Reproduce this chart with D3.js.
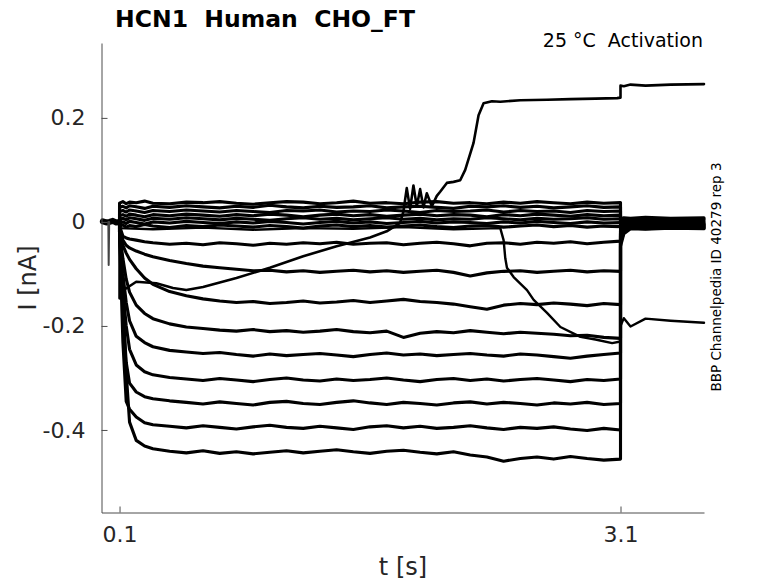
<!DOCTYPE html>
<html lang="en">
<head>
<meta charset="UTF-8">
<title>HCN1 Human CHO_FT</title>
<style>
  body { margin: 0; background: #fff; }
  text { font-family: "DejaVu Sans", sans-serif; }
</style>
</head>
<body>
<div id="chart"></div>
<script src="https://cdn.jsdelivr.net/npm/d3@7"></script>
<script>
// ---- data, time in s, current in nA ----
let xTicks = [0.1, 3.1]
let yTicks = [0.2, 0, -0.2, -0.4]

// holding level before the step and the short test spike
let holdTimes = [0, 0.02, 0.04, 0.06, 0.08, 0.1]
let holdCurrents = [0.001, -0.001, 0.000, 0.002, -0.001, 0.000]
let spikeTimes = [0.033, 0.035, 0.038]
let spikeCurrents = [0.000, -0.083, 0.000]

// activation step 0.1 .. 3.1 s
let stepTimes = [0.1, 0.12, 0.14, 0.16, 0.2, 0.25, 0.3, 0.4, 0.5, 0.6, 0.7, 0.8, 0.9, 1.0, 1.1, 1.2, 1.3, 1.4, 1.5, 1.6, 1.7, 1.8, 1.9, 2.0, 2.1, 2.2, 2.3, 2.4, 2.5, 2.6, 2.7, 2.8, 2.9, 3.0, 3.1]
let stepCurrents = [
  [0.036, 0.039, 0.035, 0.038, 0.037, 0.040, 0.036, 0.035, 0.038, 0.037, 0.039, 0.036, 0.034, 0.037, 0.039, 0.038, 0.035, 0.037, 0.040, 0.036, 0.037, 0.035, 0.038, 0.039, 0.036, 0.037, 0.035, 0.038, 0.036, 0.039, 0.037, 0.035, 0.038, 0.036, 0.037],
  [0.028, 0.030, 0.027, 0.031, 0.029, 0.026, 0.030, 0.028, 0.031, 0.029, 0.027, 0.030, 0.028, 0.032, 0.029, 0.027, 0.030, 0.028, 0.029, 0.031, 0.027, 0.029, 0.030, 0.028, 0.026, 0.030, 0.029, 0.031, 0.028, 0.030, 0.027, 0.029, 0.031, 0.028, 0.029],
  [0.020, 0.022, 0.019, 0.023, 0.021, 0.018, 0.022, 0.020, 0.023, 0.021, 0.019, 0.022, 0.020, 0.018, 0.022, 0.021, 0.023, 0.019, 0.021, 0.020, 0.023, 0.021, 0.018, 0.022, 0.020, 0.021, 0.023, 0.019, 0.022, 0.020, 0.021, 0.018, 0.022, 0.020, 0.021],
  [0.012, 0.014, 0.011, 0.015, 0.013, 0.010, 0.014, 0.012, 0.015, 0.013, 0.011, 0.014, 0.012, 0.015, 0.013, 0.010, 0.013, 0.015, 0.012, 0.014, 0.011, 0.013, 0.015, 0.012, 0.014, 0.013, 0.010, 0.014, 0.012, 0.015, 0.013, 0.011, 0.014, 0.012, 0.013],
  [0.005, 0.007, 0.004, 0.008, 0.006, 0.003, 0.007, 0.005, 0.008, 0.006, 0.004, 0.007, 0.005, 0.003, 0.006, 0.008, 0.005, 0.007, 0.004, 0.006, 0.008, 0.005, 0.007, 0.004, 0.006, 0.005, 0.008, 0.006, 0.004, 0.007, 0.005, 0.006, 0.008, 0.005, 0.006],
  [-0.002, 0.000, -0.003, 0.001, -0.001, -0.004, 0.000, -0.002, 0.001, -0.001, -0.003, 0.000, -0.002, 0.001, -0.001, -0.004, -0.001, 0.001, -0.002, 0.000, -0.003, -0.001, 0.001, -0.002, 0.000, -0.001, -0.003, 0.000, -0.002, 0.001, -0.001, -0.003, 0.000, -0.002, -0.001],
  [-0.008, -0.006, -0.010, -0.007, -0.009, -0.005, -0.008, -0.011, -0.007, -0.009, -0.006, -0.008, -0.010, -0.007, -0.009, -0.012, -0.008, -0.006, -0.009, -0.007, -0.010, -0.008, -0.006, -0.009, -0.011, -0.008, -0.007, -0.010, -0.008, -0.006, -0.009, -0.007, -0.010, -0.008, -0.009],
  [-0.008, -0.027, -0.031, -0.033, -0.035, -0.038, -0.040, -0.043, -0.041, -0.044, -0.040, -0.042, -0.045, -0.041, -0.043, -0.040, -0.042, -0.039, -0.043, -0.041, -0.040, -0.044, -0.041, -0.039, -0.042, -0.046, -0.041, -0.040, -0.043, -0.039, -0.041, -0.038, -0.042, -0.039, -0.037],
  [-0.010, -0.035, -0.045, -0.050, -0.056, -0.062, -0.067, -0.074, -0.080, -0.085, -0.088, -0.091, -0.094, -0.093, -0.096, -0.094, -0.097, -0.095, -0.093, -0.096, -0.094, -0.097, -0.095, -0.093, -0.097, -0.104, -0.098, -0.095, -0.094, -0.097, -0.095, -0.093, -0.096, -0.094, -0.095],
  [-0.020, -0.045, -0.060, -0.072, -0.090, -0.108, -0.120, -0.134, -0.142, -0.148, -0.152, -0.155, -0.153, -0.157, -0.155, -0.152, -0.156, -0.154, -0.151, -0.155, -0.152, -0.149, -0.153, -0.155, -0.158, -0.163, -0.168, -0.160, -0.157, -0.159, -0.156, -0.158, -0.161, -0.157, -0.159],
  [-0.020, -0.070, -0.110, -0.135, -0.160, -0.176, -0.186, -0.196, -0.202, -0.205, -0.208, -0.210, -0.207, -0.211, -0.209, -0.212, -0.210, -0.207, -0.211, -0.213, -0.210, -0.222, -0.214, -0.211, -0.213, -0.209, -0.212, -0.215, -0.212, -0.214, -0.216, -0.219, -0.218, -0.222, -0.224],
  [-0.020, -0.100, -0.155, -0.190, -0.220, -0.232, -0.240, -0.247, -0.250, -0.253, -0.251, -0.255, -0.258, -0.254, -0.257, -0.255, -0.253, -0.256, -0.259, -0.255, -0.252, -0.256, -0.254, -0.257, -0.255, -0.253, -0.256, -0.258, -0.254, -0.256, -0.259, -0.262, -0.258, -0.255, -0.252],
  [-0.020, -0.130, -0.200, -0.245, -0.275, -0.288, -0.294, -0.299, -0.302, -0.305, -0.301, -0.304, -0.307, -0.303, -0.300, -0.304, -0.306, -0.302, -0.305, -0.303, -0.300, -0.304, -0.307, -0.303, -0.301, -0.305, -0.302, -0.306, -0.303, -0.301, -0.304, -0.307, -0.303, -0.305, -0.302],
  [-0.020, -0.170, -0.270, -0.310, -0.327, -0.336, -0.340, -0.344, -0.347, -0.350, -0.346, -0.349, -0.352, -0.347, -0.345, -0.349, -0.351, -0.347, -0.344, -0.348, -0.351, -0.347, -0.349, -0.352, -0.348, -0.346, -0.350, -0.347, -0.349, -0.352, -0.348, -0.350, -0.347, -0.351, -0.349],
  [-0.020, -0.230, -0.345, -0.360, -0.375, -0.386, -0.390, -0.393, -0.396, -0.392, -0.395, -0.398, -0.394, -0.391, -0.395, -0.397, -0.393, -0.396, -0.399, -0.394, -0.392, -0.396, -0.393, -0.397, -0.395, -0.392, -0.396, -0.399, -0.395, -0.397, -0.394, -0.398, -0.401, -0.397, -0.400],
  [-0.015, -0.150, -0.290, -0.385, -0.420, -0.431, -0.436, -0.441, -0.444, -0.440, -0.445, -0.442, -0.446, -0.443, -0.440, -0.444, -0.441, -0.438, -0.442, -0.445, -0.441, -0.439, -0.443, -0.446, -0.442, -0.448, -0.452, -0.460, -0.455, -0.452, -0.456, -0.451, -0.455, -0.458, -0.456]
]

// tail after the step, same sweep order as stepCurrents
let tailTimes = [3.1, 3.12, 3.16, 3.25, 3.4, 3.6]
let tailCurrents = [
  [0.006, 0.008, 0.007, 0.009, 0.007, 0.008],
  [0.004, 0.006, 0.005, 0.006, 0.005, 0.006],
  [0.001, 0.004, 0.003, 0.004, 0.002, 0.004],
  [-0.003, 0.001, 0.002, 0.000, 0.002, 0.001],
  [-0.005, -0.002, 0.000, -0.001, 0.001, -0.001],
  [-0.007, -0.004, -0.002, -0.003, -0.001, -0.003],
  [-0.010, -0.006, -0.004, -0.004, -0.003, -0.004],
  [-0.013, -0.007, -0.005, -0.006, -0.004, -0.005],
  [-0.017, -0.009, -0.006, -0.007, -0.005, -0.006],
  [-0.021, -0.011, -0.007, -0.008, -0.006, -0.007],
  [-0.024, -0.012, -0.008, -0.009, -0.007, -0.008],
  [-0.028, -0.014, -0.009, -0.010, -0.008, -0.009],
  [-0.032, -0.016, -0.010, -0.011, -0.009, -0.010],
  [-0.036, -0.018, -0.011, -0.012, -0.010, -0.011],
  [-0.041, -0.020, -0.012, -0.013, -0.011, -0.012],
  [-0.047, -0.023, -0.013, -0.014, -0.012, -0.013]
]

// sweep that drifts up and jumps to positive current
let riseTimes = [0.1, 0.13, 0.2, 0.32, 0.42, 0.5, 0.6, 0.8, 1.0, 1.2, 1.4, 1.6, 1.7, 1.78, 1.8, 1.82, 1.84, 1.86, 1.88, 1.9, 1.92, 1.94, 1.97, 2.0, 2.02, 2.06, 2.1, 2.14, 2.17, 2.22, 2.25, 2.28, 2.33, 2.38, 2.5, 2.66, 2.8, 2.95, 3.08, 3.1]
let riseCurrents = [-0.147, -0.130, -0.115, -0.118, -0.127, -0.131, -0.125, -0.108, -0.088, -0.066, -0.047, -0.030, -0.018, -0.002, 0.020, 0.065, 0.025, 0.070, 0.030, 0.063, 0.028, 0.055, 0.030, 0.050, 0.058, 0.075, 0.077, 0.080, 0.100, 0.152, 0.205, 0.228, 0.232, 0.231, 0.234, 0.235, 0.236, 0.237, 0.238, 0.239]
let riseTail = [0.262, 0.261, 0.264, 0.262, 0.264, 0.265]

// sweep that breaks down late in the step
let dropTimes = [0.1, 0.3, 0.6, 0.9, 1.2, 1.5, 1.8, 2.1, 2.38, 2.40, 2.41, 2.42, 2.46, 2.54, 2.58, 2.66, 2.74, 2.86, 2.95, 3.05, 3.1]
let dropCurrents = [-0.012, -0.014, -0.011, -0.015, -0.012, -0.013, -0.010, -0.014, -0.012, -0.035, -0.070, -0.088, -0.106, -0.131, -0.150, -0.175, -0.202, -0.221, -0.226, -0.233, -0.230]
let dropTail = [-0.200, -0.185, -0.201, -0.186, -0.190, -0.194]

// ---- drawing ----
let width = 778
let height = 583
let svg = d3.select('#chart').append('svg').attr('width', width).attr('height', height)

let x = d3.scaleLinear().domain([-0.008, 3.6]).range([101.5, 704])
let y = d3.scaleLinear().domain([-0.5587, 0.344]).range([512.5, 43])

let line = d3.line().x(d => x(d[0])).y(d => y(d[1]))
let zip = (ts, vs) => ts.map((t, i) => [t, vs[i]])

let traces = svg.append('g').attr('fill', 'none').attr('stroke', '#000')
  .attr('stroke-linejoin', 'round').attr('stroke-linecap', 'round')

// holding band and spike
traces.append('path').attr('d', line(zip(holdTimes, holdCurrents))).attr('stroke-width', 6)
traces.append('path').attr('d', line(zip(spikeTimes, spikeCurrents))).attr('stroke-width', 2).attr('stroke', '#444')

let holdEnd = [0.1, holdCurrents[holdCurrents.length - 1]]
stepCurrents.forEach((row, k) => {
  let pts = [holdEnd].concat(zip(stepTimes, row), zip(tailTimes, tailCurrents[k]))
  traces.append('path').attr('d', line(pts)).attr('stroke-width', 3.1)
})
traces.append('path')
  .attr('d', line([holdEnd].concat(zip(riseTimes, riseCurrents), zip(tailTimes, riseTail))))
  .attr('stroke-width', 2.6)
traces.append('path')
  .attr('d', line([holdEnd].concat(zip(dropTimes, dropCurrents), zip(tailTimes, dropTail))))
  .attr('stroke-width', 2.4)

// axes (MATLAB style: ticks inside, no box)
let fmt = d => String(d)
let yAxis = d3.axisLeft(y).tickValues(yTicks).tickFormat(fmt).tickSizeInner(-6).tickSizeOuter(0).tickPadding(16)
let gy = svg.append('g').attr('transform', 'translate(101.5,0)').call(yAxis)
let xAxis = d3.axisBottom(x).tickValues(xTicks).tickFormat(fmt).tickSizeInner(-6).tickSizeOuter(0).tickPadding(14)
let gx = svg.append('g').attr('transform', 'translate(0,512.5)').call(xAxis)
;[gx, gy].forEach(g => {
  g.select('.domain').attr('stroke', '#4d4d4d')
  g.selectAll('.tick line').attr('stroke', '#4d4d4d')
  g.selectAll('.tick text').attr('fill', '#262626')
    .style('font-family', '"DejaVu Sans", sans-serif').style('font-size', '22px')
})

// titles and labels
svg.append('text').text('HCN1  Human  CHO_FT')
  .attr('x', 265).attr('y', 27).attr('text-anchor', 'middle')
  .style('white-space', 'pre').style('font-weight', 'bold').style('font-size', '23.5px').attr('fill', '#000')
svg.append('text').text('25 °C  Activation')
  .attr('x', 703).attr('y', 47).attr('text-anchor', 'end')
  .style('white-space', 'pre').style('font-size', '19px').attr('fill', '#000')
svg.append('text').text('BBP Channelpedia ID 40279 rep 3')
  .attr('transform', 'translate(721,277) rotate(-90)').attr('text-anchor', 'middle')
  .style('font-size', '13.5px').attr('fill', '#000')
svg.append('text').text('I [nA]')
  .attr('transform', 'translate(36,278) rotate(-90)').attr('text-anchor', 'middle')
  .style('font-size', '24px').attr('fill', '#262626')
svg.append('text').text('t [s]')
  .attr('x', 403).attr('y', 575).attr('text-anchor', 'middle')
  .style('font-size', '24px').attr('fill', '#262626')
</script>
</body>
</html>
